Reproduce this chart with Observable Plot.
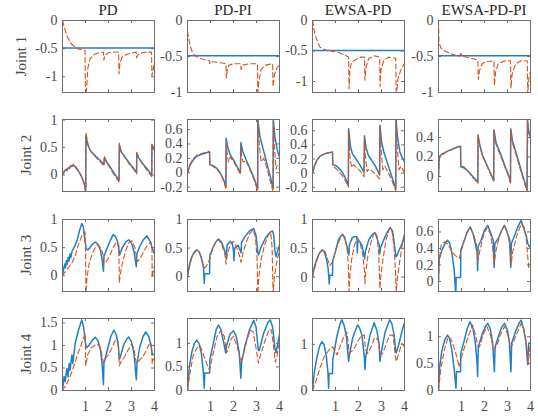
<!DOCTYPE html>
<html>
<head>
<meta charset="utf-8">
<script src="https://cdn.jsdelivr.net/npm/d3@7"></script>
<script src="https://cdn.jsdelivr.net/npm/@observablehq/plot@0.6"></script>
<style>
  body { margin: 0; background: #fff; }
  #chart { position: relative; width: 538px; height: 419px; overflow: hidden; font-family: "Liberation Serif", "Times New Roman", serif; }
  .ttl { position: absolute; font-size: 15px; color: #262626; transform: translateX(-50%); white-space: nowrap; line-height: 1; }
  .ylab { position: absolute; font-size: 15px; color: #4a4a4a; transform: translate(-50%, -50%) rotate(-90deg); white-space: nowrap; line-height: 1; }
  #chart svg { position: absolute; overflow: visible; max-width: none !important; }
  #chart svg, #chart svg text { font-family: "Liberation Serif", "Times New Roman", serif !important; font-size: 14px !important; }
</style>
</head>
<body>
<div id="chart"></div>
<script>
// ---------- labels ----------
const controllers = ["PD", "PD-PI", "EWSA-PD", "EWSA-PD-PI"];
const joints = ["Joint 1", "Joint 2", "Joint 3", "Joint 4"];
const xTicks = [1, 2, 3, 4];

// ---------- y axes per panel (row = joint, col = controller) ----------
const yDomains = [
  [[-1.28, 0], [-1, 0], [-1.18, 0], [-1, 0]],
  [[-0.3, 1.01], [-0.26, 0.74], [-0.26, 0.76], [-0.155, 0.586]],
  [[-0.28, 1], [-0.26, 1], [-0.25, 1], [-0.12, 0.75]],
  [[0, 1.6], [0, 1.53], [0, 1.56], [0, 1.34]]
];
const yTicks = [
  [[-1, -0.5, 0], [-1, -0.5, 0], [-1, -0.5, 0], [-1, -0.5, 0]],
  [[0, 0.5, 1], [-0.2, 0, 0.2, 0.4, 0.6], [-0.2, 0, 0.2, 0.4, 0.6], [0, 0.2, 0.4]],
  [[0, 0.5, 1], [0, 0.5, 1], [0, 0.5, 1], [0, 0.2, 0.4, 0.6]],
  [[0, 0.5, 1, 1.5], [0, 0.5, 1], [0, 1], [0, 0.5, 1]]
];

// ---------- series: [time, value] ----------
// Joint 1
const J1_PD_solid = [[0,-0.49],[4,-0.49]];
const J1_PD_dash = [[0,0],[0.1,-0.15],[0.2,-0.28],[0.35,-0.4],[0.5,-0.46],[0.65,-0.5],[0.85,-0.52],[0.98,-0.53],[1.0,-1.4],[1.05,-1.2],[1.1,-0.85],[1.2,-0.68],[1.4,-0.6],[1.6,-0.57],[1.78,-0.56],[1.8,-0.7],[1.85,-0.62],[2.0,-0.57],[2.2,-0.56],[2.44,-0.56],[2.46,-0.95],[2.5,-0.75],[2.6,-0.64],[2.8,-0.6],[3.0,-0.58],[3.2,-0.56],[3.22,-0.66],[3.3,-0.6],[3.5,-0.57],[3.87,-0.56],[3.89,-0.98],[3.95,-0.85],[4.0,-0.75]];
const J1_PDPI_solid = [[0,-0.49],[4,-0.49]];
const J1_PDPI_dash = [[0,-0.15],[0.1,-0.33],[0.2,-0.43],[0.3,-0.48],[0.5,-0.52],[0.8,-0.55],[0.95,-0.56],[0.97,-0.6],[1.0,-0.57],[1.3,-0.58],[1.67,-0.6],[1.69,-0.8],[1.72,-0.7],[1.8,-0.62],[2.0,-0.6],[2.3,-0.6],[2.33,-0.68],[2.4,-0.62],[2.7,-0.6],[3.04,-0.6],[3.06,-1.05],[3.1,-0.85],[3.2,-0.68],[3.4,-0.62],[3.7,-0.6],[3.72,-0.92],[3.78,-0.75],[3.9,-0.65],[4.0,-0.62]];
const J1_EPD_solid = [[0,-0.49],[4,-0.49]];
const J1_EPD_dash = [[0,0],[0.08,-0.18],[0.17,-0.3],[0.33,-0.44],[0.62,-0.49],[0.9,-0.51],[1.05,-0.49],[1.1,-0.52],[1.42,-0.57],[1.57,-0.6],[1.59,-1.12],[1.63,-0.8],[1.7,-0.68],[1.9,-0.64],[2.1,-0.6],[2.26,-0.6],[2.28,-0.98],[2.33,-0.75],[2.45,-0.62],[2.7,-0.58],[2.92,-0.6],[2.94,-1.08],[2.98,-0.8],[3.1,-0.66],[3.3,-0.6],[3.62,-0.62],[3.64,-1.25],[3.72,-0.95],[3.85,-0.8],[4.0,-0.7]];
const J1_EPDPI_solid = [[0,-0.49],[4,-0.49]];
const J1_EPDPI_dash = [[0,0],[0.02,-0.3],[0.1,-0.38],[0.25,-0.42],[0.6,-0.47],[0.9,-0.5],[0.97,-0.46],[1.05,-0.5],[1.4,-0.52],[1.71,-0.55],[1.73,-0.82],[1.78,-0.7],[1.9,-0.6],[2.1,-0.57],[2.41,-0.56],[2.43,-0.9],[2.48,-0.72],[2.6,-0.6],[2.9,-0.56],[3.13,-0.56],[3.15,-0.94],[3.2,-0.75],[3.35,-0.6],[3.6,-0.56],[3.86,-0.56],[3.88,-1.02],[3.93,-0.8],[4.0,-0.7]];

// Joint 2
const J2_PD_solid = [[0,0],[0.1,0.08],[0.15,0.1],[0.19,0.08],[0.25,0.13],[0.3,0.12],[0.36,0.17],[0.42,0.16],[0.47,0.18],[0.55,0.15],[0.7,0.07],[0.85,-0.05],[0.95,-0.17],[1.01,-0.3],[1.02,0.72],[1.1,0.55],[1.2,0.45],[1.35,0.38],[1.5,0.32],[1.65,0.26],[1.8,0.19],[1.82,0.32],[1.9,0.25],[2.05,0.16],[2.2,0.06],[2.35,-0.03],[2.46,-0.1],[2.47,0.55],[2.55,0.42],[2.7,0.34],[2.9,0.22],[3.1,0.12],[3.22,0.04],[3.23,0.4],[3.3,0.32],[3.5,0.2],[3.7,0.1],[3.88,0.0],[3.89,0.55],[3.95,0.48],[4.0,0.45]];
const J2_PD_dash = [[0,0],[0.1,0.1],[0.15,0.08],[0.2,0.12],[0.27,0.12],[0.33,0.18],[0.4,0.15],[0.47,0.2],[0.55,0.17],[0.7,0.08],[0.85,-0.04],[0.95,-0.15],[1.01,-0.3],[1.02,0.78],[1.1,0.58],[1.2,0.45],[1.35,0.37],[1.5,0.3],[1.65,0.24],[1.8,0.17],[1.82,0.34],[1.9,0.25],[2.05,0.14],[2.2,0.03],[2.35,-0.06],[2.46,-0.13],[2.47,0.58],[2.55,0.43],[2.7,0.33],[2.9,0.2],[3.1,0.1],[3.22,0.02],[3.23,0.43],[3.3,0.32],[3.5,0.18],[3.7,0.07],[3.88,-0.03],[3.89,0.58],[3.95,0.5],[4.0,0.46]];
const J2_PDPI_solid = [[0,0],[0.1,0.1],[0.25,0.18],[0.4,0.23],[0.55,0.25],[0.75,0.27],[0.96,0.29],[0.97,0.11],[1.1,0.1],[1.28,0.06],[1.4,0.01],[1.5,-0.05],[1.6,-0.12],[1.67,-0.2],[1.68,0.48],[1.75,0.35],[1.86,0.25],[2.0,0.18],[2.15,0.09],[2.3,0.0],[2.32,0.42],[2.4,0.3],[2.55,0.18],[2.7,0.07],[2.9,-0.08],[3.05,-0.22],[3.06,0.74],[3.15,0.5],[3.32,0.29],[3.45,0.13],[3.6,-0.05],[3.72,-0.22],[3.73,0.74],[3.8,0.5],[3.9,0.32],[4.0,0.22]];
const J2_PDPI_dash = [[0,0],[0.1,0.11],[0.25,0.2],[0.4,0.24],[0.55,0.26],[0.75,0.28],[0.96,0.3],[0.97,0.12],[1.1,0.09],[1.28,0.05],[1.4,0.0],[1.5,-0.06],[1.6,-0.14],[1.67,-0.23],[1.68,0.45],[1.72,0.28],[1.78,0.15],[1.86,0.22],[2.0,0.16],[2.15,0.07],[2.3,-0.02],[2.32,0.38],[2.36,0.22],[2.42,0.15],[2.55,0.17],[2.7,0.05],[2.9,-0.1],[3.05,-0.25],[3.06,0.72],[3.12,0.4],[3.2,0.15],[3.32,0.2],[3.45,0.07],[3.6,-0.12],[3.72,-0.26],[3.73,0.7],[3.78,0.35],[3.85,0.05],[3.9,0.1],[4.0,0.05]];
const J2_EPD_solid = [[0,0],[0.1,0.12],[0.2,0.19],[0.33,0.24],[0.5,0.27],[0.7,0.29],[0.87,0.3],[0.88,0.12],[1.0,0.11],[1.15,0.07],[1.3,0.01],[1.45,-0.08],[1.56,-0.18],[1.57,0.63],[1.65,0.38],[1.74,0.27],[1.9,0.2],[2.05,0.12],[2.24,0.01],[2.26,0.53],[2.33,0.36],[2.43,0.25],[2.6,0.17],[2.75,0.09],[2.92,-0.02],[2.93,0.68],[3.0,0.45],[3.1,0.3],[3.25,0.15],[3.4,0.0],[3.55,-0.15],[3.62,-0.22],[3.63,0.76],[3.7,0.5],[3.8,0.3],[3.9,0.22],[4.0,0.16]];
const J2_EPD_dash = [[0,0],[0.1,0.11],[0.2,0.18],[0.33,0.24],[0.5,0.27],[0.7,0.29],[0.87,0.3],[0.88,0.1],[1.0,0.07],[1.15,0.02],[1.3,-0.04],[1.45,-0.12],[1.56,-0.2],[1.57,0.6],[1.62,0.25],[1.7,0.08],[1.78,0.12],[1.9,0.08],[2.05,0.04],[2.24,-0.05],[2.26,0.5],[2.3,0.25],[2.38,0.02],[2.45,0.06],[2.6,0.03],[2.75,-0.02],[2.92,-0.08],[2.93,0.66],[2.98,0.35],[3.06,0.05],[3.15,0.1],[3.3,0.0],[3.45,-0.1],[3.62,-0.25],[3.63,0.74],[3.68,0.4],[3.76,0.05],[3.85,0.1],[4.0,0.0]];
const J2_EPDPI_solid = [[0,0],[0.03,0.2],[0.15,0.23],[0.39,0.26],[0.6,0.28],[0.8,0.3],[0.96,0.31],[0.97,0.1],[1.1,0.09],[1.26,0.06],[1.45,0.01],[1.6,-0.03],[1.71,-0.06],[1.72,0.42],[1.8,0.32],[1.91,0.22],[2.1,0.12],[2.25,0.04],[2.4,-0.04],[2.41,0.48],[2.5,0.35],[2.72,0.22],[2.9,0.1],[3.05,0.01],[3.13,-0.06],[3.14,0.49],[3.22,0.36],[3.4,0.22],[3.55,0.1],[3.7,-0.02],[3.85,-0.14],[3.87,0.58],[3.93,0.45],[4.0,0.4]];
const J2_EPDPI_dash = [[0,0],[0.03,0.17],[0.08,0.22],[0.15,0.22],[0.39,0.26],[0.6,0.28],[0.8,0.3],[0.96,0.31],[0.97,0.11],[1.1,0.1],[1.26,0.06],[1.45,0.0],[1.6,-0.04],[1.71,-0.07],[1.72,0.43],[1.8,0.31],[1.91,0.21],[2.1,0.11],[2.25,0.03],[2.4,-0.05],[2.41,0.47],[2.5,0.33],[2.72,0.2],[2.9,0.09],[3.05,0.0],[3.13,-0.07],[3.14,0.48],[3.22,0.34],[3.4,0.2],[3.55,0.08],[3.7,-0.04],[3.85,-0.15],[3.87,0.57],[3.93,0.46],[4.0,0.43]];

// Joint 3
const J3_PD_solid = [[0,0],[0.05,0.12],[0.1,0.21],[0.13,0.14],[0.17,0.27],[0.2,0.2],[0.25,0.33],[0.28,0.26],[0.33,0.39],[0.36,0.32],[0.42,0.44],[0.5,0.5],[0.63,0.62],[0.75,0.82],[0.84,0.93],[0.9,0.88],[0.97,0.65],[1.03,0.48],[1.1,0.46],[1.2,0.5],[1.3,0.56],[1.43,0.6],[1.55,0.55],[1.65,0.45],[1.72,0.3],[1.78,0.08],[1.8,0.34],[1.9,0.45],[2.05,0.6],[2.2,0.73],[2.3,0.7],[2.4,0.6],[2.46,0.45],[2.48,0.37],[2.6,0.5],[2.75,0.6],[2.88,0.64],[3.0,0.58],[3.1,0.45],[3.21,0.16],[3.23,0.38],[3.35,0.52],[3.5,0.63],[3.67,0.71],[3.8,0.62],[3.9,0.5],[4.0,0.38]];
const J3_PD_dash = [[0,0],[0.1,0.06],[0.25,0.14],[0.4,0.22],[0.55,0.35],[0.7,0.56],[0.85,0.72],[0.98,0.78],[1.0,0.5],[1.02,-0.3],[1.06,-0.05],[1.15,0.2],[1.3,0.4],[1.45,0.52],[1.55,0.55],[1.68,0.48],[1.78,0.35],[1.8,0.22],[1.9,0.25],[2.05,0.35],[2.2,0.5],[2.35,0.6],[2.45,0.55],[2.47,-0.12],[2.52,0.05],[2.62,0.25],[2.75,0.45],[2.9,0.6],[3.02,0.62],[3.15,0.5],[3.22,0.32],[3.25,0.25],[3.4,0.32],[3.55,0.45],[3.7,0.55],[3.85,0.6],[3.89,0.5],[3.9,-0.03],[3.95,0.1],[4.0,0.2]];
const J3_PDPI_solid = [[0,0],[0.08,0.2],[0.17,0.33],[0.28,0.42],[0.4,0.47],[0.5,0.44],[0.6,0.33],[0.7,0.15],[0.73,-0.12],[0.75,0.05],[0.96,0.05],[0.97,0.37],[1.1,0.5],[1.25,0.62],[1.35,0.66],[1.48,0.6],[1.6,0.48],[1.67,0.38],[1.69,0.3],[1.72,0.55],[1.85,0.62],[1.95,0.58],[2.0,0.45],[2.02,0.28],[2.05,0.5],[2.2,0.55],[2.33,0.42],[2.35,0.6],[2.5,0.7],[2.7,0.8],[2.88,0.84],[2.98,0.72],[3.05,0.45],[3.08,0.38],[3.2,0.52],[3.4,0.68],[3.6,0.78],[3.7,0.8],[3.75,0.72],[3.8,0.45],[3.85,0.35],[3.9,0.42],[4.0,0.55]];
const J3_PDPI_dash = [[0,0],[0.1,0.2],[0.2,0.35],[0.35,0.45],[0.45,0.46],[0.55,0.4],[0.65,0.25],[0.75,0.15],[0.85,0.2],[0.96,0.3],[1.1,0.5],[1.25,0.63],[1.35,0.65],[1.5,0.55],[1.62,0.4],[1.68,0.22],[1.72,0.38],[1.85,0.55],[1.98,0.62],[2.1,0.55],[2.25,0.38],[2.33,0.25],[2.4,0.4],[2.55,0.6],[2.7,0.75],[2.85,0.82],[2.95,0.7],[3.02,0.35],[3.06,-0.3],[3.1,0.0],[3.2,0.3],[3.35,0.55],[3.5,0.72],[3.62,0.78],[3.68,0.5],[3.72,-0.3],[3.78,0.0],[3.9,0.3],[4.0,0.45]];
const J3_EPD_solid = [[0,0],[0.08,0.18],[0.17,0.29],[0.3,0.42],[0.41,0.47],[0.5,0.45],[0.6,0.33],[0.68,0.15],[0.73,-0.12],[0.75,0.03],[0.87,0.03],[0.88,0.29],[1.0,0.45],[1.13,0.65],[1.25,0.72],[1.32,0.74],[1.42,0.65],[1.52,0.5],[1.58,0.38],[1.6,0.55],[1.72,0.68],[1.8,0.7],[1.93,0.7],[1.95,0.42],[1.97,0.62],[2.05,0.62],[2.15,0.55],[2.27,0.32],[2.3,0.45],[2.45,0.65],[2.6,0.74],[2.72,0.77],[2.83,0.65],[2.9,0.55],[2.93,0.41],[2.95,0.5],[3.1,0.65],[3.25,0.78],[3.38,0.86],[3.48,0.8],[3.55,0.6],[3.63,0.35],[3.7,0.4],[3.8,0.5],[3.9,0.58],[4.0,0.74]];
const J3_EPD_dash = [[0,0],[0.1,0.16],[0.2,0.3],[0.33,0.43],[0.45,0.48],[0.55,0.44],[0.65,0.32],[0.75,0.2],[0.88,0.27],[1.0,0.45],[1.15,0.62],[1.3,0.73],[1.4,0.7],[1.5,0.5],[1.56,0.2],[1.59,-0.25],[1.62,0.0],[1.7,0.3],[1.82,0.55],[1.95,0.68],[2.05,0.62],[2.18,0.4],[2.26,0.1],[2.28,-0.12],[2.32,0.1],[2.42,0.4],[2.55,0.62],[2.7,0.78],[2.8,0.72],[2.88,0.4],[2.93,-0.2],[2.98,0.05],[3.08,0.35],[3.2,0.65],[3.35,0.85],[3.45,0.82],[3.55,0.5],[3.62,0.0],[3.64,-0.25],[3.7,0.0],[3.8,0.3],[3.9,0.55],[4.0,0.7]];
const J3_EPDPI_solid = [[0,0],[0.02,0.26],[0.15,0.38],[0.3,0.47],[0.39,0.5],[0.48,0.47],[0.58,0.35],[0.68,0.15],[0.75,-0.15],[0.77,0.05],[0.96,0.05],[0.97,0.38],[1.1,0.48],[1.25,0.6],[1.38,0.66],[1.5,0.58],[1.6,0.46],[1.68,0.35],[1.7,0.13],[1.72,0.42],[1.85,0.5],[2.0,0.62],[2.14,0.68],[2.25,0.6],[2.38,0.5],[2.42,0.17],[2.45,0.46],[2.6,0.52],[2.75,0.62],[2.87,0.68],[3.0,0.58],[3.1,0.5],[3.14,0.17],[3.17,0.46],[3.3,0.55],[3.45,0.66],[3.59,0.74],[3.7,0.65],[3.82,0.55],[3.88,0.46],[3.95,0.42],[4.0,0.44]];
const J3_EPDPI_dash = [[0,0],[0.05,0.3],[0.12,0.45],[0.25,0.48],[0.4,0.45],[0.55,0.38],[0.7,0.32],[0.9,0.28],[1.0,0.38],[1.1,0.48],[1.25,0.6],[1.4,0.64],[1.55,0.55],[1.65,0.45],[1.72,0.25],[1.78,0.35],[1.95,0.55],[2.1,0.65],[2.25,0.58],[2.35,0.42],[2.42,0.2],[2.48,0.35],[2.65,0.55],[2.85,0.68],[3.0,0.6],[3.1,0.42],[3.16,0.2],[3.22,0.35],[3.4,0.55],[3.6,0.7],[3.72,0.66],[3.82,0.5],[3.92,0.17],[3.96,0.2],[4.0,0.22]];

// Joint 4
const J4_PD_solid = [[0,0],[0.07,0.31],[0.12,0.2],[0.19,0.49],[0.24,0.3],[0.29,0.6],[0.33,0.45],[0.41,0.79],[0.45,0.6],[0.55,1.04],[0.7,1.35],[0.84,1.57],[0.92,1.4],[1.0,1.05],[1.05,0.95],[1.15,1.0],[1.3,1.12],[1.43,1.18],[1.55,1.1],[1.65,0.9],[1.72,0.6],[1.78,0.13],[1.8,0.6],[1.95,0.9],[2.1,1.2],[2.23,1.34],[2.33,1.25],[2.42,1.05],[2.47,0.7],[2.5,0.72],[2.65,1.0],[2.8,1.15],[2.88,1.19],[3.0,1.08],[3.1,0.85],[3.21,0.24],[3.24,0.6],[3.35,0.95],[3.5,1.2],[3.62,1.3],[3.75,1.2],[3.85,1.0],[3.9,0.8],[4.0,0.8]];
const J4_PD_dash = [[0,0],[0.15,0.12],[0.33,0.31],[0.5,0.55],[0.65,0.8],[0.77,0.95],[0.9,1.15],[0.99,1.26],[1.01,0.55],[1.1,0.8],[1.25,0.95],[1.5,1.04],[1.65,0.95],[1.78,0.62],[1.85,0.7],[2.0,0.8],[2.15,0.95],[2.3,1.12],[2.42,1.05],[2.47,0.55],[2.55,0.65],[2.7,0.75],[2.85,0.9],[3.0,1.03],[3.1,0.95],[3.21,0.6],[3.3,0.65],[3.5,0.75],[3.65,0.9],[3.82,1.08],[3.88,0.95],[3.9,0.6],[3.95,0.7],[4.0,0.7]];
const J4_PDPI_solid = [[0,0],[0.08,0.5],[0.19,0.82],[0.3,1.0],[0.4,1.07],[0.5,1.0],[0.6,0.8],[0.68,0.45],[0.73,0.05],[0.75,0.37],[0.96,0.37],[0.97,0.65],[1.1,0.95],[1.25,1.3],[1.35,1.39],[1.45,1.3],[1.58,1.0],[1.66,0.8],[1.7,0.95],[1.85,1.2],[2.0,1.27],[2.12,1.15],[2.25,0.8],[2.32,0.26],[2.35,0.6],[2.5,0.95],[2.7,1.3],[2.88,1.49],[2.98,1.35],[3.08,0.85],[3.12,0.85],[3.3,1.2],[3.5,1.45],[3.6,1.5],[3.7,1.35],[3.8,0.9],[3.85,0.8],[4.0,1.2]];
const J4_PDPI_dash = [[0,0],[0.1,0.35],[0.25,0.75],[0.4,0.9],[0.55,0.95],[0.7,0.75],[0.85,0.55],[0.96,0.44],[1.1,0.75],[1.28,1.14],[1.45,1.28],[1.6,1.15],[1.7,0.8],[1.75,0.85],[1.9,1.1],[2.0,1.15],[2.15,0.95],[2.32,0.61],[2.45,0.8],[2.6,1.1],[2.73,1.28],[2.85,1.25],[2.98,0.9],[3.08,0.58],[3.2,0.8],[3.4,1.1],[3.55,1.3],[3.65,1.28],[3.75,0.9],[3.82,0.6],[3.9,0.75],[4.0,1.05]];
const J4_EPD_solid = [[0,0],[0.08,0.4],[0.17,0.66],[0.3,0.95],[0.41,1.06],[0.5,1.0],[0.6,0.75],[0.67,0.4],[0.7,0.05],[0.72,0.37],[0.87,0.37],[0.88,0.66],[1.06,1.17],[1.2,1.45],[1.28,1.53],[1.38,1.4],[1.48,1.15],[1.57,0.63],[1.6,0.75],[1.75,1.15],[1.96,1.42],[2.05,1.35],[2.15,1.2],[2.25,0.75],[2.28,0.45],[2.32,0.75],[2.5,1.2],[2.68,1.47],[2.8,1.3],[2.9,1.0],[2.93,0.63],[2.98,0.8],[3.15,1.25],[3.35,1.53],[3.45,1.45],[3.55,1.2],[3.62,0.85],[3.64,0.81],[3.75,1.0],[3.9,1.3],[4.0,1.47]];
const J4_EPD_dash = [[0,0],[0.15,0.2],[0.33,0.5],[0.5,0.72],[0.62,0.81],[0.75,0.9],[0.87,0.95],[1.0,0.85],[1.06,0.77],[1.2,0.95],[1.35,1.15],[1.49,1.27],[1.55,1.05],[1.59,0.81],[1.7,0.85],[1.78,0.88],[1.95,1.05],[2.1,1.17],[2.25,1.2],[2.3,0.9],[2.4,0.8],[2.55,0.95],[2.7,1.15],[2.85,1.1],[2.94,0.77],[3.05,0.8],[3.2,1.0],[3.35,1.2],[3.5,1.2],[3.6,0.75],[3.64,0.63],[3.75,0.8],[3.88,1.02],[4.0,0.95]];
const J4_EPDPI_solid = [[0,0],[0.05,0.44],[0.15,0.75],[0.28,0.95],[0.39,1.03],[0.48,0.97],[0.58,0.75],[0.68,0.4],[0.76,0.04],[0.78,0.35],[0.96,0.35],[0.97,0.69],[1.1,0.9],[1.25,1.15],[1.37,1.28],[1.5,1.15],[1.6,0.9],[1.68,0.5],[1.7,0.26],[1.73,0.81],[1.9,1.05],[2.05,1.2],[2.14,1.25],[2.25,1.15],[2.35,0.9],[2.43,0.35],[2.46,0.81],[2.6,1.0],[2.75,1.18],[2.87,1.25],[3.0,1.12],[3.08,0.9],[3.15,0.35],[3.18,0.88],[3.35,1.1],[3.5,1.25],[3.59,1.31],[3.7,1.15],[3.8,0.9],[3.88,0.48],[3.92,0.88],[4.0,0.88]];
const J4_EPDPI_dash = [[0,0],[0.1,0.4],[0.25,0.75],[0.4,0.97],[0.46,1.0],[0.6,0.9],[0.75,0.7],[0.9,0.44],[1.05,0.7],[1.25,0.95],[1.48,1.22],[1.6,1.05],[1.7,0.85],[1.78,0.81],[1.95,1.05],[2.1,1.19],[2.25,1.05],[2.4,0.75],[2.55,0.85],[2.7,1.05],[2.87,1.19],[3.0,1.05],[3.15,0.8],[3.3,0.95],[3.45,1.1],[3.6,1.25],[3.7,1.15],[3.8,0.95],[3.9,0.51],[3.95,0.7],[4.0,0.95]];

const solidSeries = [
  [J1_PD_solid, J1_PDPI_solid, J1_EPD_solid, J1_EPDPI_solid],
  [J2_PD_solid, J2_PDPI_solid, J2_EPD_solid, J2_EPDPI_solid],
  [J3_PD_solid, J3_PDPI_solid, J3_EPD_solid, J3_EPDPI_solid],
  [J4_PD_solid, J4_PDPI_solid, J4_EPD_solid, J4_EPDPI_solid]
];
const dashSeries = [
  [J1_PD_dash, J1_PDPI_dash, J1_EPD_dash, J1_EPDPI_dash],
  [J2_PD_dash, J2_PDPI_dash, J2_EPD_dash, J2_EPDPI_dash],
  [J3_PD_dash, J3_PDPI_dash, J3_EPD_dash, J3_EPDPI_dash],
  [J4_PD_dash, J4_PDPI_dash, J4_EPD_dash, J4_EPDPI_dash]
];

// ---------- layout ----------
const colX = [62, 187, 312, 438];
const rowY = [20, 119, 219, 318];
const W = 92, H = 72;
const ML = 46, MR = 10, MT = 4, MB = 28;
const BLUE = "#1f80c6", ORANGE = "#D95319", AXIS = "#6e6e6e", LABEL = "#4a4a4a";
const SERIF = '"Liberation Serif", "Times New Roman", serif';
const fmt = d => (d < 0 ? "-" : "") + String(Math.abs(d));

const root = document.getElementById("chart");

controllers.forEach((name, c) => {
  const d = document.createElement("div");
  d.className = "ttl";
  d.textContent = name;
  d.style.left = (colX[c] + W / 2) + "px";
  d.style.top = "3px";
  root.appendChild(d);
});
joints.forEach((name, r) => {
  const d = document.createElement("div");
  d.className = "ylab";
  d.textContent = name;
  d.style.left = (r === 0 ? 21 : 26) + "px";
  d.style.top = (rowY[r] + H / 2) + "px";
  root.appendChild(d);
});

for (let r = 0; r < 4; r++) {
  for (let c = 0; c < 4; c++) {
    const ticks = yTicks[r][c];
    const marks = [
      Plot.line(solidSeries[r][c], {x: d => d[0], y: d => d[1], stroke: BLUE, strokeWidth: 1.5, clip: true}),
      Plot.line(dashSeries[r][c], {x: d => d[0], y: d => d[1], stroke: ORANGE, strokeWidth: 1.1, strokeDasharray: "5,3", clip: true}),
      Plot.tickY(ticks, {y: d => d, insetRight: W - 3, stroke: AXIS}),
      Plot.tickY(ticks, {y: d => d, insetLeft: W - 3, stroke: AXIS}),
      Plot.tickX([1, 2, 3], {x: d => d, insetTop: H - 3, stroke: AXIS}),
      Plot.tickX([1, 2, 3], {x: d => d, insetBottom: H - 3, stroke: AXIS}),
      Plot.axisY({ticks, tickSize: 0, tickPadding: 5, tickFormat: fmt, fill: LABEL, fontSize: 14}),
      Plot.frame({stroke: AXIS, strokeWidth: 1})
    ];
    if (r === 3) marks.push(Plot.axisX({ticks: xTicks, tickSize: 0, tickPadding: 11, tickFormat: fmt, fill: LABEL, fontSize: 14}));
    const svg = Plot.plot({
      width: W + ML + MR, height: H + MT + MB,
      marginLeft: ML, marginRight: MR, marginTop: MT, marginBottom: MB,
      x: {domain: [0, 4], axis: null},
      y: {domain: yDomains[r][c], axis: null},
      style: `background: transparent; overflow: visible; font-family: ${SERIF}; font-size: 14px;`,
      marks
    });
    svg.setAttribute("font-family", SERIF);
    svg.querySelectorAll("g, text").forEach(el => {
      if (el.hasAttribute("font-family")) el.setAttribute("font-family", SERIF);
      if (el.tagName === "text") el.style.fontFamily = SERIF;
    });
    svg.style.left = (colX[c] - ML) + "px";
    svg.style.top = (rowY[r] - MT) + "px";
    root.appendChild(svg);
  }
}
</script>
</body>
</html>
